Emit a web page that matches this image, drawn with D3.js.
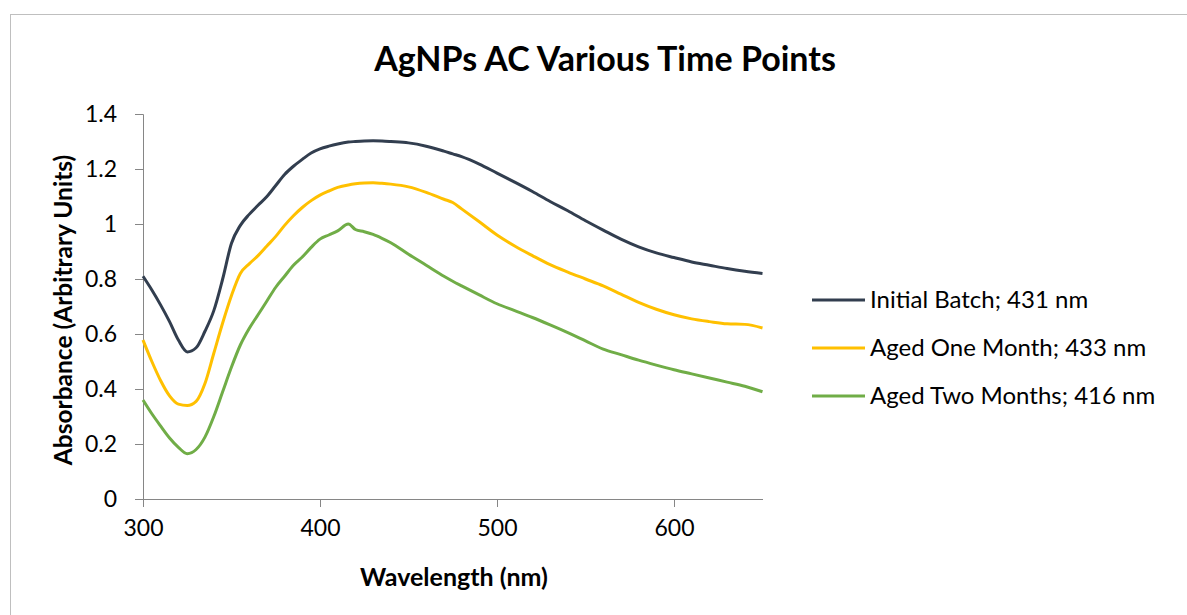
<!DOCTYPE html>
<html>
<head>
<meta charset="utf-8">
<script src="https://cdn.jsdelivr.net/npm/d3@7"></script>
<style>
  body { margin: 0; background: #fff; }
  svg text { font-family: Lato, "Noto Sans", sans-serif; fill: #000; }
</style>
</head>
<body>
<svg id="chart" width="1187" height="615"></svg>
<script>
// values
const wavelengths = [300, 305, 310, 315, 320, 325, 330, 335, 340, 345, 350, 355, 360, 365, 370, 375, 380, 385, 390, 395,
  400, 405, 410, 416, 420, 425, 430, 435, 440, 450, 460, 470, 475, 480, 490, 500, 510, 520, 530, 540,
  550, 560, 570, 580, 590, 600, 610, 620, 630, 640, 650];

const initialBatch = [0.81, 0.76, 0.705, 0.645, 0.578, 0.535, 0.55, 0.61, 0.685, 0.80, 0.93, 0.995, 1.035, 1.068, 1.10, 1.14, 1.18, 1.21, 1.235, 1.258,
  1.273, 1.283, 1.291, 1.298, 1.30, 1.302, 1.303, 1.302, 1.30, 1.295, 1.283, 1.265, 1.255, 1.245, 1.218, 1.185, 1.152, 1.118, 1.082, 1.048,
  1.012, 0.978, 0.945, 0.917, 0.895, 0.878, 0.862, 0.85, 0.838, 0.828, 0.82];

const agedOneMonth = [0.578, 0.50, 0.43, 0.375, 0.345, 0.34, 0.355, 0.42, 0.53, 0.64, 0.74, 0.82, 0.855, 0.885, 0.92, 0.955, 0.995, 1.03, 1.06, 1.085,
  1.105, 1.12, 1.133, 1.142, 1.146, 1.149, 1.15, 1.148, 1.145, 1.135, 1.115, 1.09, 1.078, 1.055, 1.008, 0.96, 0.92, 0.885, 0.852, 0.825,
  0.80, 0.775, 0.745, 0.715, 0.69, 0.67, 0.655, 0.645, 0.637, 0.635, 0.622];

const agedTwoMonths = [0.36, 0.31, 0.265, 0.222, 0.188, 0.165, 0.18, 0.225, 0.30, 0.39, 0.48, 0.56, 0.62, 0.67, 0.72, 0.77, 0.81, 0.85, 0.88, 0.915,
  0.945, 0.96, 0.975, 1.0, 0.98, 0.972, 0.962, 0.948, 0.932, 0.89, 0.85, 0.81, 0.792, 0.775, 0.742, 0.71, 0.685, 0.66, 0.633, 0.605,
  0.575, 0.545, 0.525, 0.505, 0.487, 0.47, 0.455, 0.44, 0.425, 0.41, 0.39];

const seriesNames = ["Initial Batch; 431 nm", "Aged One Month; 433 nm", "Aged Two Months; 416 nm"];
const seriesColors = ["#323E4F", "#FFC000", "#70AD47"];
const seriesValues = [initialBatch, agedOneMonth, agedTwoMonths];
const xTicks = [300, 400, 500, 600];
const yTicks = [0, 0.2, 0.4, 0.6, 0.8, 1, 1.2, 1.4];

const svg = d3.select("#chart");

// outer chart border
svg.append("rect")
  .attr("x", 10.5).attr("y", 14.5)
  .attr("width", 1200).attr("height", 700)
  .attr("fill", "none").attr("stroke", "#BFBFBF");

const x = d3.scaleLinear().domain([300, 650]).range([143, 762.5]);
const y = d3.scaleLinear().domain([0, 1.4]).range([499, 114]);

// y axis
const yAxis = svg.append("g")
  .attr("transform", "translate(143,0)")
  .call(d3.axisLeft(y).tickValues(yTicks).tickSize(8).tickPadding(18)
    .tickFormat(d => d === 0 ? "0" : d3.format("")(+d.toFixed(1))));
yAxis.select(".domain").attr("stroke", "#868686");
yAxis.selectAll(".tick line").attr("stroke", "#868686");
yAxis.selectAll(".tick text").style("font-size", "23px").attr("fill", "#000");

// x axis
const xAxis = svg.append("g")
  .attr("transform", "translate(0,499)")
  .call(d3.axisBottom(x).tickValues(xTicks).tickSize(8).tickSizeOuter(0).tickPadding(13));
xAxis.select(".domain").attr("stroke", "#868686");
xAxis.selectAll(".tick line").attr("stroke", "#868686");
xAxis.selectAll(".tick text").style("font-size", "23px").attr("fill", "#000");

// series lines
const line = d3.line()
  .x((d, i) => x(wavelengths[i]))
  .y(d => y(d))
  .curve(d3.curveMonotoneX);

seriesValues.forEach((vals, i) => {
  svg.append("path")
    .datum(vals)
    .attr("d", line)
    .attr("fill", "none")
    .attr("stroke", seriesColors[i])
    .attr("stroke-width", 3)
    .attr("stroke-linejoin", "round");
});

// titles
svg.append("text")
  .attr("x", 605).attr("y", 71)
  .attr("text-anchor", "middle")
  .style("font-size", "34px").style("font-weight", "bold")
  .text("AgNPs AC Various Time Points");

svg.append("text")
  .attr("x", 454).attr("y", 586)
  .attr("text-anchor", "middle")
  .style("font-size", "25px").style("font-weight", "bold")
  .text("Wavelength (nm)");

svg.append("text")
  .attr("transform", "translate(72,310) rotate(-90)")
  .attr("text-anchor", "middle")
  .style("font-size", "24.5px").style("font-weight", "bold")
  .text("Absorbance (Arbitrary Units)");

// legend
const legend = svg.append("g");
const legendY = [300, 348, 396];
seriesNames.forEach((name, i) => {
  legend.append("line")
    .attr("x1", 812).attr("x2", 865)
    .attr("y1", legendY[i]).attr("y2", legendY[i])
    .attr("stroke", seriesColors[i]).attr("stroke-width", 3);
  legend.append("text")
    .attr("x", 870).attr("y", legendY[i])
    .attr("dy", "0.35em")
    .style("font-size", "24px")
    .text(name);
});
</script>
</body>
</html>
